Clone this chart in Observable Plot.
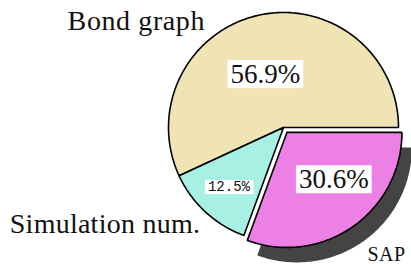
<!DOCTYPE html>
<html><head><meta charset="utf-8">
<script src="https://cdn.jsdelivr.net/npm/d3@7"></script>
<script src="https://cdn.jsdelivr.net/npm/@observablehq/plot@0.6"></script>
<style>body{margin:0;background:#fff} svg{display:block}</style>
</head><body><div id="chart"></div>
<script>
const categories = ["Bond graph", "Simulation num.", "SAP"];
const values = [56.9, 12.5, 30.6];
const valueLabels = ["56.9%", "12.5%", "30.6%"];
const colors = ["#f0e4b4", "#a8f0e4", "#ec80e4"];
const exploded = [false, false, true];

// layout
const W = 411, H = 264, cx = 283, cy = 127, R = 115;
const explodeDist = 6 / R;
const shadowOffset = [10, 15];
const pctRadius = [0.49, 0.7, 0.575];
const pctNudge = [[-6, 2], [0, 0], [9, -7]];
const pctFont = [["Liberation Serif", 27], ["Liberation Mono", 14], ["Liberation Serif", 27]];
const nameRadius = [1.15, 1.12, 1.3];
const nameNudge = [[-50, 23], [4, 2], [-5, 0]];
const nameAnchor = ["end", "end", "start"];
const nameSize = [28, 28, 20];
const nameSpacing = [0.6, 0.25, 0.4];

const total = d3.sum(values);
let acc = 0;
const slices = values.map((v, i) => {
  const a0 = acc / total * 2 * Math.PI;
  acc += v;
  const a1 = acc / total * 2 * Math.PI;
  const mid = (a0 + a1) / 2;
  const ox = exploded[i] ? explodeDist * Math.cos(mid) : 0;
  const oy = exploded[i] ? explodeDist * Math.sin(mid) : 0;
  const pts = [{x: ox, y: oy}];
  const n = Math.max(2, Math.ceil((a1 - a0) / (Math.PI / 180)));
  for (let k = 0; k <= n; k++) {
    const a = a0 + (a1 - a0) * k / n;
    pts.push({x: ox + Math.cos(a), y: oy + Math.sin(a)});
  }
  pts.push({x: ox, y: oy});
  return {i, name: categories[i], label: valueLabels[i], color: colors[i], a0, a1, mid, ox, oy, pts};
});

const marks = [];
slices.forEach(s => {
  if (exploded[s.i]) marks.push(Plot.line(s.pts, {x: "x", y: "y", fill: "#444444", stroke: "none", dx: shadowOffset[0], dy: shadowOffset[1], curve: "linear"}));
});
slices.forEach(s => {
  marks.push(Plot.line(s.pts, {x: "x", y: "y", fill: s.color, stroke: "black", strokeWidth: 1.6, strokeLinejoin: "miter", curve: "linear"}));
});
slices.forEach(s => {
  const f = pctRadius[s.i];
  marks.push(Plot.text([s], {
    x: d => d.ox + f * Math.cos(d.mid), y: d => d.oy + f * Math.sin(d.mid),
    text: "label", fontFamily: pctFont[s.i][0], fontSize: pctFont[s.i][1], fill: "#111",
    dx: pctNudge[s.i][0], dy: pctNudge[s.i][1], className: "pct"
  }));
  const g = nameRadius[s.i];
  marks.push(Plot.text([s], {
    x: d => d.ox + g * Math.cos(d.mid), y: d => d.oy + g * Math.sin(d.mid),
    text: "name", fontFamily: "Liberation Serif", fontSize: nameSize[s.i], fill: "#111",
    textAnchor: nameAnchor[s.i], dx: nameNudge[s.i][0], dy: nameNudge[s.i][1],
    className: "name" + s.i
  }));
});

const chart = Plot.plot({
  width: W, height: H, margin: 0,
  x: {domain: [-cx / R, (W - cx) / R], range: [0, W], axis: null},
  y: {domain: [-(H - cy) / R, cy / R], range: [H, 0], axis: null},
  style: {background: "white", overflow: "hidden"},
  marks
});
document.getElementById("chart").appendChild(chart);

nameSpacing.forEach((sp, i) => {
  chart.querySelectorAll(".name" + i + " text").forEach(t => t.style.letterSpacing = sp + "px");
});

const svgns = "http://www.w3.org/2000/svg";
chart.querySelectorAll(".pct text").forEach(t => {
  const b = t.getBBox();
  const r = document.createElementNS(svgns, "rect");
  r.setAttribute("x", b.x - 3);
  r.setAttribute("y", b.y + 1);
  r.setAttribute("width", b.width + 6);
  r.setAttribute("height", b.height - 2);
  r.setAttribute("fill", "white");
  if (t.getAttribute("transform")) r.setAttribute("transform", t.getAttribute("transform"));
  t.parentNode.insertBefore(r, t);
});
</script>
</body></html>
